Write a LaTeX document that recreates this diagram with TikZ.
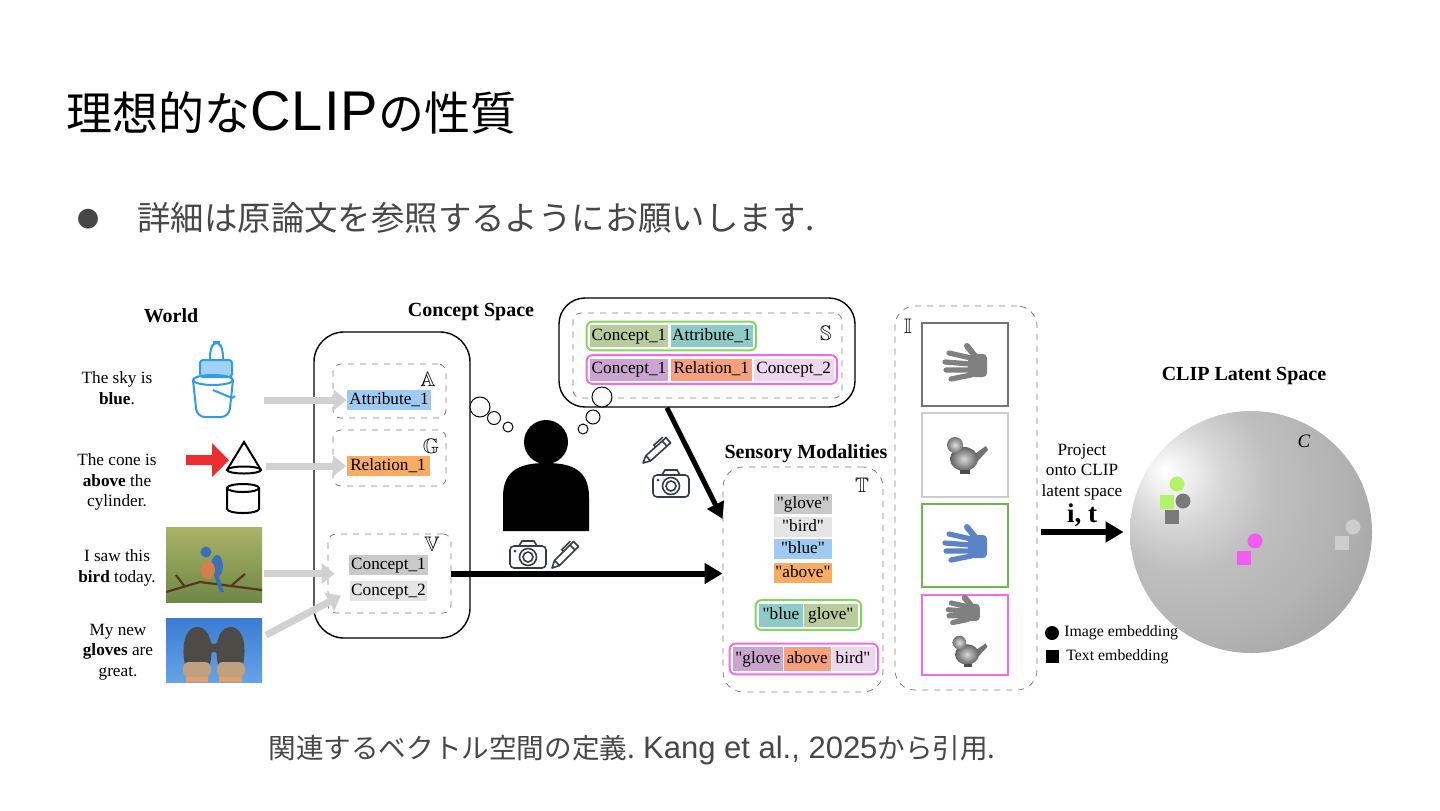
\documentclass[tikz,border=0pt]{standalone}
\usepackage{fontspec}
\usepackage{amssymb}
\setmainfont{Liberation Serif}[Ligatures=TeXOff]
\newfontfamily\jp{Noto Sans CJK JP}
\newfontfamily\lsans{Liberation Sans}
\usetikzlibrary{arrows.meta,positioning,fit}

\definecolor{cblue}{HTML}{9FCBF3}
\definecolor{corange}{HTML}{F7AC62}
\definecolor{cgrayA}{HTML}{C9C9C9}
\definecolor{cgrayB}{HTML}{E4E4E4}
\definecolor{colive}{HTML}{B8CC9D}
\definecolor{cteal}{HTML}{8DCBC8}
\definecolor{cpurple}{HTML}{C9A5D0}
\definecolor{csalmon}{HTML}{F5A07E}
\definecolor{clilac}{HTML}{EDD7EF}
\definecolor{cgreen}{HTML}{80D95A}
\definecolor{cmagenta}{HTML}{EE6AEE}
\definecolor{iconc}{HTML}{363C44}
\definecolor{bottleblue}{HTML}{2F9BEA}
\definecolor{arrowred}{HTML}{EC2D2D}
\definecolor{handgray}{HTML}{808080}
\definecolor{handblue}{HTML}{5B84C8}
\definecolor{ptgreen}{HTML}{B3F36A}
\definecolor{ptdark}{HTML}{7A7A7A}
\definecolor{ptpink}{HTML}{F35CF3}
\definecolor{ptlight}{HTML}{CDCDCD}
\definecolor{leafA}{HTML}{AAB466}
\definecolor{leafB}{HTML}{6E8746}
\definecolor{skyA}{HTML}{3A7CD4}
\definecolor{skyB}{HTML}{66A3E6}
\definecolor{mitten}{HTML}{4E4B46}
\definecolor{fur}{HTML}{BFA07F}
\definecolor{arm}{HTML}{E2A06C}
\definecolor{birdblue}{HTML}{3B6FB8}
\definecolor{birdred}{HTML}{D5804A}

\pgfdeclareradialshading{latent}{\pgfpoint{-18bp}{13bp}}{%
  color(0bp)=(white); color(4bp)=(black!6); color(10bp)=(black!16);
  color(18bp)=(black!25); color(30bp)=(black!30); color(42bp)=(black!37);
  color(56bp)=(black!52); color(80bp)=(black!56)}

\tikzset{
  hand/.pic={
    \fill[rounded corners=2pt] (2,-11) rectangle (21,12);
    \draw[line width=2.6pt,line cap=round] (5,-7) -- (-17,-12) (5,-1) -- (-21,-3)
      (5,5) -- (-20,5) (5,10) -- (-15,14);
    \draw[line width=3pt,line cap=round] (9,-9) -- (1,-19);
  },
  birdie/.pic={
    \fill[black!55] (9,0) -- (22,-9) -- (24,-5) -- (12,8) -- cycle;
    \shade[inner color=black!15,outer color=black!62] (0,4) ellipse [x radius=14,y radius=12];
    \shade[inner color=black!12,outer color=black!55] (-9,-10) circle (8);
    \fill[black!70] (-4,15) rectangle (6,19);
  },
  camera/.pic={
    \draw[line width=0.8pt,rounded corners=2pt] (-18,-9) rectangle (18,13);
    \draw[line width=0.8pt] (-9,-9) -- (-6,-14) -- (6,-14) -- (9,-9);
    \draw[line width=0.8pt] (0,2) circle (8.5) (0,2) circle (5);
    \fill (-13,-4) circle (1.5);
  },
  pencil/.pic={
    \draw[line width=0.8pt,line join=round] (0,0) -- (7,-3.5) -- (34,-3.5) -- (34,3.5)
      -- (7,3.5) -- cycle (7,-3.5) -- (7,3.5) (29,-3.5) -- (29,3.5);
    \draw[line width=0.8pt] (20,-3.5) -- (20,-6) -- (32,-6);
  }
}

\begin{document}
\begin{tikzpicture}[x=0.5pt,y=-0.5pt,
  every node/.style={font=\fontsize{8.6}{10.3}\selectfont},
  heading/.style={font=\fontsize{10}{12}\selectfont\bfseries},
  world/.style={align=center,inner sep=0pt},
  bbletter/.style={font=\fontsize{10.5}{12}\selectfont,inner sep=0pt},
  chip/.style={inner sep=0pt,minimum height=10pt,text height=6.2pt,text depth=1.8pt},
  setbox/.style={draw=black!50,dashed,line width=0.4pt,rounded corners=4pt},
  bubble/.style={draw,fill=white,line width=0.5pt},
  icon/.style={color=iconc},
  greyarrow/.style={line width=3.5pt,draw=black!18,-{Triangle[length=6.5pt,width=10pt,fill=black!18]}},
  bigarrow/.style={line width=3pt,-{Triangle[length=9pt,width=10pt]}}
]
\path[fill=white,use as bounding box] (0,0) rectangle (1440,810);

% タイトル
\node[anchor=west,inner sep=0pt,font=\jp\fontsize{23}{28}\selectfont] (title) at (66,113) {理想的な{\lsans\fontsize{28}{30}\selectfont\addfontfeature{LetterSpace=2}CLIP}の性質};
\node[inner sep=0pt,text=black!72,font=\jp\fontsize{11}{14}\selectfont] (dot) at (88,219) {●};
\node[anchor=west,inner sep=0pt,text=black!72,font=\jp\fontsize{16.7}{20}\selectfont] (note) at (137,218) {詳細は原論文を参照するようにお願いします.};
\node[anchor=west,inner sep=0pt,text=black!72,font=\jp\fontsize{13.8}{16}\selectfont] (cite) at (268,750) {関連するベクトル空間の定義. {\lsans\fontsize{15.5}{16}\selectfont Kang et al., 2025}から引用.};

% 見出し
\node[heading] (worldh) at (171,316) {World};
\node[heading] (concepth) at (471,312) {Concept Space};
\node[heading] (sensh) at (806,454) {Sensory Modalities};
\node[heading] (cliph) at (1244,376) {CLIP Latent Space};

% World
\node[world] (t1) at (117,388) {The sky is\\\textbf{blue}.};
\node[world] (t2) at (117,482) {The cone is\\\textbf{above} the\\cylinder.};
\node[world] (t3) at (117,568) {I saw this\\\textbf{bird} today.};
\node[world] (t4) at (118,652) {My new\\\textbf{gloves} are\\great.};

% バケツと哺乳瓶
\node[minimum width=20pt,minimum height=40pt] (sky) at (213,380) {};
\fill[bottleblue!45,draw=bottleblue,line width=1pt,rounded corners=1.5pt] (200,360) rectangle (232,377);
\draw[bottleblue,line width=1pt,rounded corners=3pt] (210,360) -- (210,350) -- (214,342) -- (219,342) -- (223,350) -- (223,360);
\draw[bottleblue,line width=1pt] (213,380) ellipse [x radius=20,y radius=5];
\draw[bottleblue,line width=1pt,rounded corners=4pt] (193,380) -- (197,417) -- (229,417) -- (233,380);
\draw[bottleblue,line width=1pt] (213,390) -- (232,398) -- (235,396);

% 円錐と円柱
\node[minimum width=18pt,minimum height=36pt] (conefig) at (244,478) {};
\fill[arrowred] (186,455) -- (212,455) -- (212,443) -- (229,460) -- (212,477) -- (212,465) -- (186,465) -- cycle;
\draw[line width=1pt] (227,470) -- (244,442) -- (261,470);
\draw[line width=1pt] (244,470) ellipse [x radius=17,y radius=3.5];
\draw[line width=1pt] (243,488) ellipse [x radius=16,y radius=4];
\draw[line width=1pt] (227,488) -- (227,509) arc[start angle=180,end angle=0,x radius=16,y radius=4] -- (259,488);

% 鳥の写真
\node[minimum width=48pt,minimum height=37.5pt,inner sep=0pt,top color=leafA,bottom color=leafB] (birdimg) at (214,564.5) {};
\begin{scope}
  \clip (166,527) rectangle (262,602);
  \draw[brown!45!black,line width=1.1pt] (166,592) -- (200,582) -- (262,590) (185,587) -- (176,575) (232,585) -- (245,574);
  \fill[birdblue] (217,566) ellipse [x radius=6,y radius=11];
  \fill[birdblue] (218,574) -- (224,592) -- (220,592) -- (214,576) -- cycle;
  \fill[birdred] (208,570) ellipse [x radius=7,y radius=9];
  \fill[birdblue] (206,552) circle (5.5);
\end{scope}

% 手袋の写真
\node[minimum width=48pt,minimum height=32pt,inner sep=0pt,top color=skyA,bottom color=skyB] (glovesimg) at (214,650) {};
\begin{scope}
  \clip (166,618) rectangle (262,682);
  \fill[arm] (186,676) rectangle (208,682) (219,676) rectangle (242,682);
  \fill[mitten] (185,665) .. controls (180,640) and (188,626) .. (198,627) .. controls (210,628) and (214,645) .. (210,665) -- cycle;
  \fill[mitten] (243,665) .. controls (248,640) and (240,626) .. (230,627) .. controls (218,628) and (214,645) .. (218,665) -- cycle;
  \fill[mitten] (211,648) circle (5) (217,648) circle (5);
  \fill[fur,rounded corners=3pt] (183,662) rectangle (211,677) (217,662) rectangle (245,677);
\end{scope}

% Concept Space
\node[draw,line width=0.7pt,rounded corners=15pt,minimum width=78pt,minimum height=153pt] (cspace) at (392,485) {};
\node[setbox,minimum width=56.5pt,minimum height=27pt] (abox) at (389.5,391) {};
\node[bbletter] (aletter) at (428,379) {$\mathbb{A}$};
\node[chip,fill=cblue,minimum width=42pt] (attr) at (389,400) {Attribute\_1};
\node[setbox,minimum width=56.5pt,minimum height=28pt] (gbox) at (389.5,458) {};
\node[bbletter] (gletter) at (431,446) {$\mathbb{G}$};
\node[chip,fill=corange,minimum width=41.5pt] (rel) at (388,466) {Relation\_1};
\node[setbox,minimum width=61.5pt,minimum height=39.5pt] (vbox) at (389.5,573.5) {};
\node[bbletter] (vletter) at (432,544) {$\mathbb{V}$};
\node[chip,fill=cgrayA,minimum width=39.5pt] (c1) at (388.5,565) {Concept\_1};
\node[chip,fill=cgrayB,minimum width=38.5pt] (c2) at (388.5,591) {Concept\_2};

\draw[greyarrow,shorten <=15.5pt] (sky.east |- attr.west) -- (attr.west);
\draw[greyarrow,shorten <=2pt] (conefig.east |- rel.west) -- (rel.west);
\draw[greyarrow,shorten <=1pt,shorten >=-3.5pt] (birdimg.east |- vbox.west) -- (vbox.west);
\draw[greyarrow,shorten <=2pt,shorten >=5pt] (glovesimg.15) -- (c2.west);

% 人物
\fill (546,442) circle (22);
\fill (503,531) -- (503,497) .. controls (503,470) and (520,463) .. (546,463) .. controls (572,463) and (589,470) .. (589,497) -- (589,531) -- cycle;
\pic[icon] at (528,555) {camera};
\pic[icon,rotate=45] at (552,568) {pencil};

% S
\node[draw,line width=0.7pt,rounded corners=13pt,minimum width=148pt,minimum height=54.5pt] (sbox) at (707,352.5) {};
\node[setbox,minimum width=134.5pt,minimum height=42.5pt] (sset) at (707.5,355.5) {};
\node[bbletter] (sletter) at (826,333) {$\mathbb{S}$};
\node[chip,fill=colive,minimum width=39pt,minimum height=11pt] (s1a) at (629,336) {Concept\_1};
\node[chip,fill=cteal,minimum width=41pt,minimum height=11pt,right=1pt of s1a] (s1b) {Attribute\_1};
\node[fit=(s1a)(s1b),draw=cgreen,line width=1pt,rounded corners=3pt,inner sep=1.5pt] (s1) {};
\node[chip,fill=cpurple,minimum width=39pt,minimum height=11pt] (s2a) at (629,369.5) {Concept\_1};
\node[chip,fill=csalmon,minimum width=40.5pt,minimum height=11pt,right=1pt of s2a] (s2b) {Relation\_1};
\node[chip,fill=clilac,minimum width=40pt,minimum height=11pt,right=0.5pt of s2b] (s2c) {Concept\_2};
\node[fit=(s2a)(s2c),draw=cmagenta,line width=1pt,rounded corners=3pt,inner sep=1.5pt] (s2) {};

% 吹き出し
\foreach \cx/\cy/\r in {480/407/10,494/418/6.5,508/427/5,602/397/10,593/417/7,583/429/5}
  \draw[bubble] (\cx,\cy) circle (\r);

% Sensory Modalities
\node[setbox,rounded corners=10pt,minimum width=80pt,minimum height=112.5pt] (sens) at (803,579.5) {};
\node[bbletter] (tletter) at (862,485) {$\mathbb{T}$};
\node[chip,fill=cgrayA,minimum width=29pt] (tglove) at (803,504) {"glove"};
\node[chip,fill=cgrayB,minimum width=29pt] (tbird) at (803,527) {"bird"};
\node[chip,fill=cblue,minimum width=29pt] (tblue) at (803,549) {"blue"};
\node[chip,fill=corange,minimum width=29pt] (tabove) at (803,573) {"above"};
\node[chip,fill=cteal,minimum width=22pt,minimum height=11.5pt] (bg1) at (781,615) {"blue};
\node[chip,fill=colive,minimum width=27pt,minimum height=11.5pt,right=0pt of bg1] (bg2) {glove"};
\node[fit=(bg1)(bg2),draw=cgreen,line width=1pt,rounded corners=3pt,inner sep=1.5pt] (bluebox) {};
\node[chip,fill=cpurple,minimum width=25pt,minimum height=12pt] (gb1) at (758,659) {"glove};
\node[chip,fill=csalmon,minimum width=23.5pt,minimum height=12pt,right=0pt of gb1] (gb2) {above};
\node[chip,fill=clilac,minimum width=21.5pt,minimum height=12pt,right=0pt of gb2] (gb3) {bird"};
\node[fit=(gb1)(gb3),draw=cmagenta,line width=1pt,rounded corners=3pt,inner sep=1.5pt] (abovebox) {};

\draw[bigarrow] (vbox.east) -- (sens.west |- vbox.east);
\draw[bigarrow,line width=2.5pt,-{Triangle[length=8pt,width=9pt]}] (sbox.234) -- (sens.143);
\pic[icon,rotate=42] at (643,463) {pencil};
\pic[icon] at (671,484) {camera};

% I
\node[setbox,rounded corners=10pt,minimum width=71pt,minimum height=192pt] (ibox) at (966,498) {};
\node[bbletter] (iletter) at (908,326) {$\mathbb{I}$};
\node[draw=black!55,line width=1pt,minimum width=43pt,minimum height=41.5pt] (f1) at (965,364.5) {};
\node[draw=black!20,line width=1pt,minimum width=43pt,minimum height=42pt] (f2) at (965,455) {};
\node[draw=cgreen!85!black,line width=1pt,minimum width=43pt,minimum height=41.5pt] (f3) at (965,545.5) {};
\node[draw=cmagenta,line width=1pt,minimum width=43pt,minimum height=40pt] (f4) at (965,635) {};
\pic[color=handgray] at (966,365) {hand};
\pic at (964,455) {birdie};
\pic[color=handblue] at (966,546) {hand};
\pic[color=handgray,scale=0.75] at (964,612) {hand};
\pic[scale=0.85] at (967,651) {birdie};

% CLIP 空間
\node[circle,minimum size=121pt,shading=latent] (sphere) at (1251,532) {};
\node (cname) at (1304,441) {\fontsize{9.5}{11}\selectfont\textit{C}};
\node[align=center,inner sep=0pt] (proj) at (1082,472) {Project\\onto CLIP\\latent space};
\node[inner sep=0pt,font=\fontsize{13.5}{15}\selectfont\bfseries] (itlabel) at (1082,515) {i, t};
\draw[bigarrow,shorten <=2pt,shorten >=3pt] (ibox.east |- sphere.west) -- (sphere.west);

\fill[ptgreen] (1177,484) circle (7.5);
\fill[ptgreen] (1160,495) rectangle +(14,14);
\fill[ptdark] (1183,501) circle (7.5);
\fill[ptdark] (1165,510) rectangle +(14,14);
\fill[ptpink] (1255,541) circle (7.5);
\fill[ptpink] (1237,551) rectangle +(14,14);
\fill[ptlight] (1353,527) circle (7.5);
\fill[ptlight] (1335,536) rectangle +(14,14);

% 凡例
\fill (1052,633) circle (7);
\node[anchor=west,inner sep=0pt,font=\fontsize{7.9}{9}\selectfont] (limg) at (1064,633) {Image embedding};
\fill (1046,650) rectangle +(13,13);
\node[anchor=west,inner sep=0pt,font=\fontsize{7.9}{9}\selectfont] (ltxt) at (1066,657) {Text embedding};

\end{tikzpicture}
\end{document}
